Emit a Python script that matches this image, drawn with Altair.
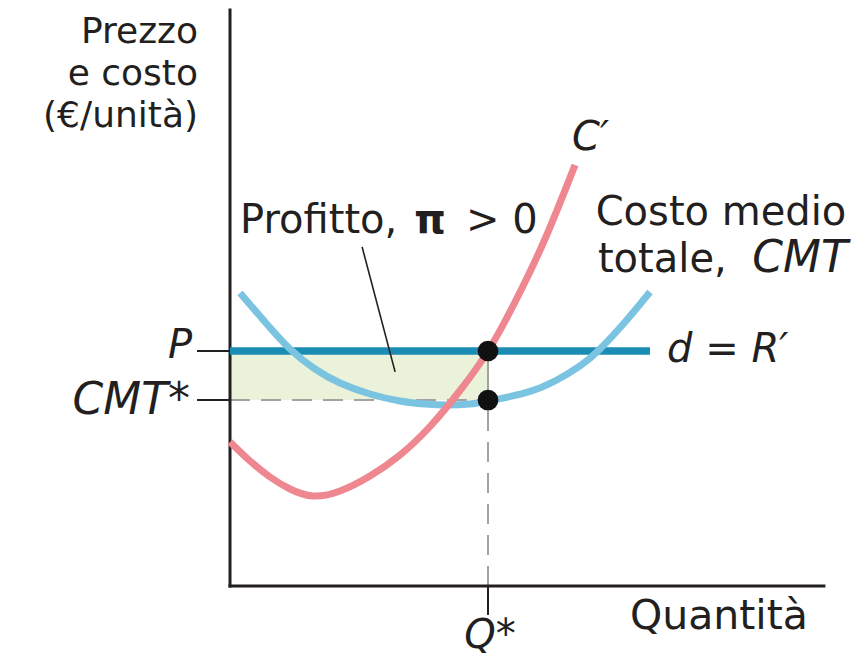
import altair as alt
import pandas as pd

# ---- data (economic units: Q* = 10, P = 10) ----
P_PRICE = 10.0
CMT_STAR = 7.91
Q_STAR = 10.0

# Marginal cost C'
mc_q = [0.0, 0.775, 1.55, 2.326, 3.217, 4.264, 5.426, 6.589, 7.752, 8.915, 10.0, 11.047, 12.209, 13.372]
mc_p = [6.128, 5.319, 4.638, 4.128, 3.830, 4.043, 4.681, 5.574, 6.787, 8.319, 10.0, 12.085, 14.766, 17.915]

# Average total cost CMT
cmt_q = [0.388, 1.357, 2.326, 3.295, 4.264, 5.426, 6.589, 7.558, 8.411, 9.302, 10.0, 11.434, 12.597, 13.566, 14.341, 15.310, 16.279]
cmt_p = [12.468, 11.234, 10.085, 9.234, 8.638, 8.170, 7.872, 7.745, 7.702, 7.745, 7.872, 8.213, 8.723, 9.362, 10.085, 11.234, 12.511]

# Demand d = R'
d_q = [0.0, 16.28]

# axes extents
X_AXIS_END = 23.02
Y_AXIS_TOP = 24.51

# ---- scales ----
XDOM = [-8.605, 24.147]
YDOM = [-3.064, 24.596]
W, H = 845, 650

def X(f="q"):
    return alt.X(f"{f}:Q", scale=alt.Scale(domain=XDOM, nice=False, zero=False), axis=None)

def Y(f="p"):
    return alt.Y(f"{f}:Q", scale=alt.Scale(domain=YDOM, nice=False, zero=False), axis=None)

FONT = "DejaVu Sans"
FS = 40

# profit rectangle
profit = pd.DataFrame({"q": [0.0], "q2": [Q_STAR], "p": [CMT_STAR], "p2": [P_PRICE]})
rect = alt.Chart(profit).mark_rect(color="#ebf2da").encode(
    x=X(), x2="q2:Q", y=Y(), y2="p2:Q")

# dashed guides
dash_h = alt.Chart(pd.DataFrame({"q": [0.0], "q2": [Q_STAR], "p": [CMT_STAR], "p2": [CMT_STAR]})).mark_rule(
    color="#a3a3a3", strokeWidth=2, strokeDash=[20, 11]).encode(x=X(), x2="q2:Q", y=Y(), y2="p2:Q")
dash_v = alt.Chart(pd.DataFrame({"q": [Q_STAR], "q2": [Q_STAR], "p": [0.0], "p2": [CMT_STAR]})).mark_rule(
    color="#a3a3a3", strokeWidth=2, strokeDash=[20, 11]).encode(x=X(), x2="q2:Q", y=Y(), y2="p2:Q")
solid_v = alt.Chart(pd.DataFrame({"q": [Q_STAR], "q2": [Q_STAR], "p": [CMT_STAR], "p2": [P_PRICE]})).mark_rule(
    color="#a3a3a3", strokeWidth=2).encode(x=X(), x2="q2:Q", y=Y(), y2="p2:Q")

# axes
axes_df = pd.DataFrame({
    "q": [0.0, 0.0, -1.24, -1.24, Q_STAR],
    "q2": [0.0, X_AXIS_END, 0.0, 0.0, Q_STAR],
    "p": [0.0, 0.0, P_PRICE, CMT_STAR, -1.19],
    "p2": [Y_AXIS_TOP, 0.0, P_PRICE, CMT_STAR, 0.0],
    "w": [3.0, 3.0, 2.0, 2.0, 2.0],
})
axes = alt.Chart(axes_df).mark_rule(color="#231f20", strokeCap="square").encode(
    x=X(), x2="q2:Q", y=Y(), y2="p2:Q",
    strokeWidth=alt.StrokeWidth("w:Q", scale=None))

# demand line
dline = alt.Chart(pd.DataFrame({"q": d_q, "p": [P_PRICE] * len(d_q)})).mark_line(
    color="#1b8db5", strokeWidth=7.5).encode(x=X(), y=Y())

cmt = alt.Chart(pd.DataFrame({"q": cmt_q, "p": cmt_p})).mark_line(
    color="#7ac4e2", strokeWidth=7, interpolate="natural").encode(x=X(), y=Y())

mc = alt.Chart(pd.DataFrame({"q": mc_q, "p": mc_p})).mark_line(
    color="#ef8790", strokeWidth=7, interpolate="natural").encode(x=X(), y=Y())

# leader line for the profit label
leader = alt.Chart(pd.DataFrame({"q": [5.12], "q2": [6.40], "p": [14.43], "p2": [9.11]})).mark_rule(
    color="#231f20", strokeWidth=1.6).encode(x=X(), x2="q2:Q", y=Y(), y2="p2:Q")

dots = alt.Chart(pd.DataFrame({"q": [Q_STAR, Q_STAR], "p": [P_PRICE, CMT_STAR]})).mark_point(
    filled=True, color="#111111", size=430, opacity=1).encode(x=X(), y=Y())

def label(rows, align="left", style="normal", weight="normal", size=FS, line_height=None):
    df = pd.DataFrame(rows, columns=["q", "p", "t"])
    kw = dict(align=align, baseline="alphabetic", font=FONT, fontSize=size,
              fontStyle=style, fontWeight=weight, color="#231f20")
    if line_height is not None:
        kw.update(lineBreak="\n", lineHeight=line_height)
    return alt.Chart(df).mark_text(**kw).encode(x=X(), y=Y(), text="t:N")

labels = [
    label([(-1.24, 23.11, "Prezzo\ne costo\n(€/unità)")], align="right", size=36, line_height=42),
    label([(-1.47, 9.70, "P")], align="right", style="italic"),
    label([(-1.55, 7.32, "CMT*")], align="right", style="italic", size=44),
    label([(10.08, -2.638, "Q*")], align="center", style="italic"),
    label([(15.50, -1.83, "Quantità")], size=41),
    label([(13.26, 18.55, "C′")], style="italic"),
    label([(19.03, 15.36, "Costo medio")], align="center"),
    label([(14.26, 13.36, "totale,")]),
    label([(23.95, 13.36, "CMT")], align="right", style="italic", size=44),
    label([(16.94, 9.53, "d = R′")], style="italic"),
    label([(0.39, 15.02, "Profitto,"), (9.15, 15.02, "> 0")]),
    label([(7.75, 15.02, "π")], align="center", weight="bold"),
]

chart = alt.layer(rect, dash_h, dash_v, solid_v, axes, dline, cmt, mc, leader, dots, *labels).properties(
    width=W, height=H, padding=0, autosize=alt.AutoSizeParams(type="none")
).configure_view(stroke=None)

chart.save("out.html", embed_options={"renderer": "svg", "actions": False})
